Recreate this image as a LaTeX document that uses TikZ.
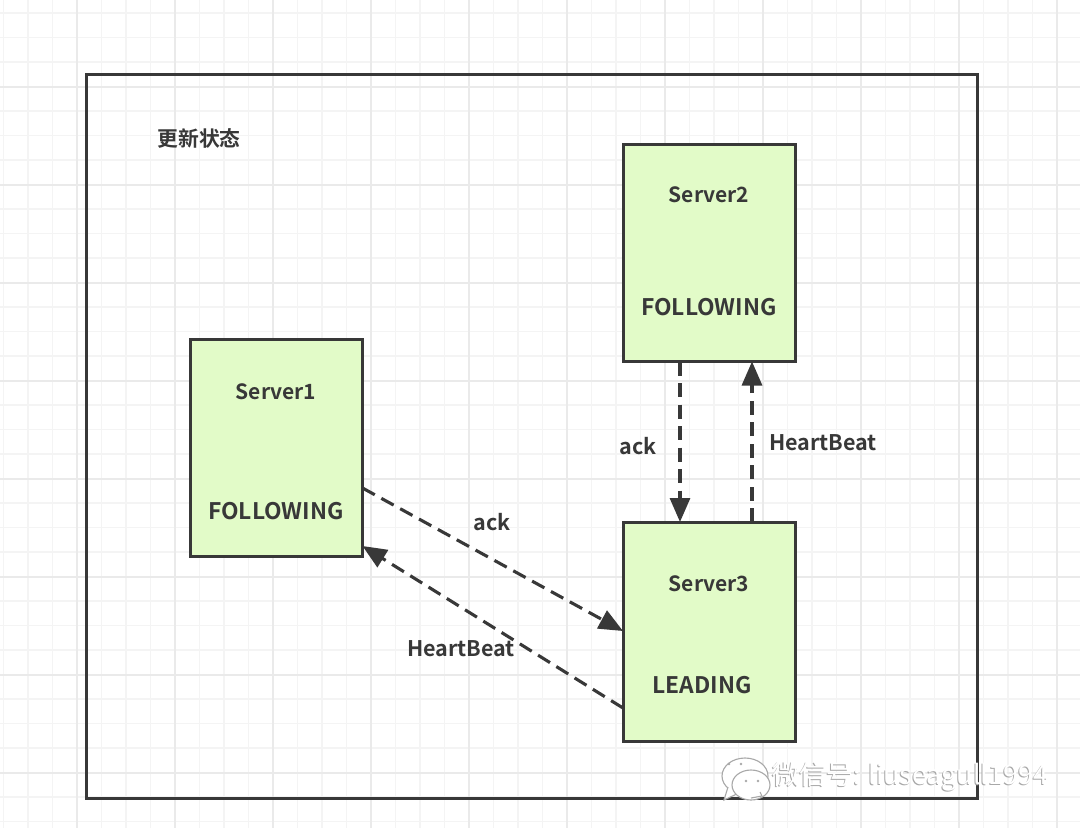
\documentclass[tikz,border=0pt]{standalone}
\usepackage{fontspec}
\setmainfont{Noto Sans CJK SC}[BoldFont={* Bold}]
\newfontfamily\medfont{Noto Sans CJK SC Bold}
\usetikzlibrary{arrows.meta,calc}
\definecolor{ink}{HTML}{383838}
\definecolor{boxfill}{HTML}{E2FBC8}
\definecolor{gridminor}{HTML}{F4F4F4}
\definecolor{gridmajor}{HTML}{EAEAEA}
\definecolor{markgray}{HTML}{A8A8A8}
\tikzset{
  x=1pt,y=-1pt,
  serverbox/.style={draw=ink,line width=3pt,fill=boxfill,minimum width=172pt,anchor=north west,inner sep=0pt,outer sep=0pt},
  lbl/.style={text=ink,font=\fontsize{21.5}{21.5}\selectfont\bfseries,inner sep=0pt},
  slbl/.style={font=\fontsize{21}{21}\selectfont\bfseries},
  wide/.style={font=\fontsize{22.8}{22.8}\selectfont\bfseries},
  flow/.style={draw=ink,line width=3.1pt,dash pattern=on 14pt off 7.5pt,-{Triangle[length=24pt,width=20pt]}},
  wm/.style={font=\fontsize{26.8}{26.8}\selectfont,inner sep=0pt,anchor=west},
  bubble/.style={draw=markgray,line width=1.1pt,fill=white},
}
\begin{document}
\begin{tikzpicture}
\useasboundingbox (0,0) rectangle (1080,828);
\fill[white] (0,0) rectangle (1080,828);
% grid
\foreach \i in {0,...,44}{
  \pgfmathsetmacro{\gx}{3.5+24.5*\i}
  \draw[gridminor,line width=1.6pt] (\gx,0) -- (\gx,828);
}
\foreach \i in {0,...,33}{
  \pgfmathsetmacro{\gy}{13+24.5*\i}
  \draw[gridminor,line width=1.6pt] (0,\gy) -- (1080,\gy);
}
\foreach \i in {0,...,11}{
  \pgfmathsetmacro{\gx}{77+98*\i}
  \draw[gridmajor,line width=1.6pt] (\gx,0) -- (\gx,828);
}
\foreach \i in {0,...,8}{
  \pgfmathsetmacro{\gy}{87+98*\i}
  \draw[gridmajor,line width=1.6pt] (0,\gy) -- (1080,\gy);
}
% frame
\node[draw=ink,line width=3pt,outer sep=0pt,minimum width=891pt,minimum height=724pt,anchor=north west,inner sep=0pt] (frame) at (86.5,74) {};
\node[text=ink,inner sep=0pt,font=\fontsize{20.8}{20.8}\selectfont\medfont] (title) at (199,138) {更新状态};
% boxes
\node[serverbox,minimum height=217pt] (s1) at (190.5,339) {};
\node[serverbox,minimum height=217pt] (s2) at (623,144.5) {};
\node[serverbox,minimum height=219pt] (s3) at (623,522) {};
% box labels
\node[lbl,slbl] (s1a) at (276,391.5) {Server1};
\node[lbl,wide] (s1b) at (276,511.5) {FOLLOWING};
\node[lbl,slbl] (s2a) at (709,194.5) {Server2};
\node[lbl,wide] (s2b) at (709,307.5) {FOLLOWING};
\node[lbl,slbl] (s3a) at (709,583.5) {Server3};
\node[lbl,wide] (s3b) at (702,685.5) {LEADING};
% connection points
\coordinate (a1) at ($(s1.north east)+(0,149)$);
\coordinate (a2) at ($(s3.north west)+(0,109)$);
\coordinate (b1) at ($(s3.north west)+(0,186)$);
\coordinate (b2) at ($(s1.north east)+(0,207)$);
\coordinate (c1) at ($(s2.south west)+(57,0)$);
\coordinate (c2) at ($(s3.north west)+(57,0)$);
\coordinate (d1) at ($(s3.north west)+(129,0)$);
\coordinate (d2) at ($(s2.south west)+(129,0)$);
% connectors
\draw[flow] (a1) -- (a2);
\draw[flow] (b1) -- (b2);
\draw[flow] (c1) -- (c2);
\draw[flow] (d1) -- (d2);
% connector labels
\node[lbl] (l1) at (492,522.5) {ack};
\node[lbl] (l2) at (461,648.5) {HeartBeat};
\node[lbl] (l3) at (638,446) {ack};
\node[lbl] (l4) at (823,442.5) {HeartBeat};
% watermark
\draw[bubble] (745,776) ellipse (23pt and 18pt);
\draw[markgray,line width=1.1pt,fill=white] (728,787) -- (724,800) -- (741,792);
\draw[bubble] (751,785) ellipse (19pt and 15pt);
\draw[markgray,line width=1.1pt,fill=white] (751,798) -- (762,796) -- (760,792);
\foreach \p in {(729,764),(741,764),(746,781),(758,781)}{\fill[markgray] \p circle (1.3pt);}
\node[wm,text=markgray] (wms) at (771.5,777.7) {微信号: liuseagull1994};
\node[wm,text=white] (wmt) at (772.5,776.7) {微信号: liuseagull1994};
\end{tikzpicture}
\end{document}
